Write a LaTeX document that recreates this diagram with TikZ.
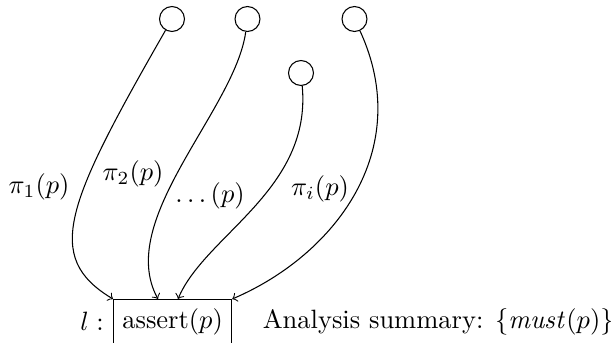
\documentclass[tikz,border=0pt]{standalone}
\usetikzlibrary{positioning}
\begin{document}
\begin{tikzpicture}[x=0.3774pt,y=-0.3774pt,
  src/.style={draw,circle,inner sep=3.33pt,minimum size=0pt},
  stmt/.style={draw,rectangle,inner sep=3.33pt},
  flow/.style={->}]
\useasboundingbox (0,0) rectangle (611,343);
\node[src] (c1) at (172,19) {};
\node[src] (c2) at (247.5,19) {};
\node[src] (c3) at (301,73) {};
\node[src] (c4) at (354.5,19) {};
\node[stmt,anchor=north west] (box) at (113,299) {assert$(p)$};
\node[left=0pt of box] (lab) {$l:$};
\node[right=8pt of box] (sum) {Analysis summary: $\{\mathit{must}(p)\}$};
\coordinate (e2) at (158,299);
\coordinate (e3) at (178,299);
\draw[flow] (c1) .. controls (66,204) and (43,257) .. (box.north west);
\draw[flow] (c2) .. controls (235,110) and (115,220) .. (e2);
\draw[flow] (c3) .. controls (312,190) and (205,235) .. (e3);
\draw[flow] (c4) .. controls (415,150) and (335,255) .. (box.north east);
\node (l1) at (39,187) {$\pi_1(p)$};
\node (l2) at (133,174) {$\pi_2(p)$};
\node (l3) at (210,196) {$\ldots(p)$};
\node (l4) at (320,189) {$\pi_i(p)$};
\end{tikzpicture}
\end{document}
